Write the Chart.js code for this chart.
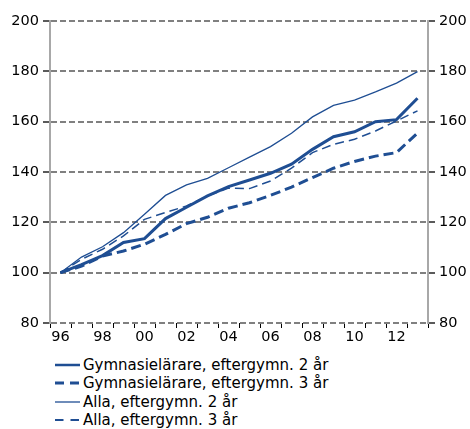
<!DOCTYPE html>
<html>
<head>
<meta charset="utf-8">
<script src="https://cdn.jsdelivr.net/npm/chart.js@4"></script>
<style>
  html, body { margin: 0; padding: 0; background: #fff; }
  #wrap { position: relative; width: 470px; height: 429px; }
  #c { position: absolute; left: 0; top: 0; }
  #legend { position: absolute; left: 55px; top: 355.8px; font-family: "DejaVu Sans", Verdana, sans-serif; font-size: 15px; color: #000; }
  .item { height: 18.4px; line-height: 18.4px; display: flex; align-items: center; white-space: nowrap; }
  .item svg { width: 25px; height: 10px; margin-right: 3px; flex: none; }
</style>
</head>
<body>
<div id="wrap">
  <canvas id="c" width="470" height="345"></canvas>
  <div id="legend"></div>
</div>
<script>
const years = ['96','97','98','99','00','01','02','03','04','05','06','07','08','09','10','11','12','13'];
const yTicks = [80, 100, 120, 140, 160, 180, 200];
const seriesNames = [
  'Gymnasielärare, eftergymn. 2 år',
  'Gymnasielärare, eftergymn. 3 år',
  'Alla, eftergymn. 2 år',
  'Alla, eftergymn. 3 år'
];
const gymn2 = [100, 103.2, 106.8, 112.0, 113.5, 121.5, 126.0, 130.5, 134.2, 136.8, 139.5, 143.1, 149.0, 154.0, 156.0, 160.0, 160.8, 169.3];
const gymn3 = [100, 102.6, 106.6, 108.6, 111.3, 115.2, 119.5, 122.0, 125.6, 127.8, 130.7, 134.0, 137.8, 141.5, 144.2, 146.3, 147.7, 155.5];
const alla2 = [100, 106.2, 110.3, 115.9, 123.2, 130.7, 134.9, 137.5, 141.7, 145.9, 150.1, 155.4, 161.9, 166.5, 168.6, 171.8, 175.3, 179.9];
const alla3 = [100, 105.3, 109.3, 114.6, 121.2, 123.9, 126.5, 130.5, 133.6, 133.4, 136.4, 141.5, 147.7, 151.0, 153.0, 156.3, 160.3, 164.3];

const BLUE = '#1f4e93';
const styles = [
  { borderWidth: 3, borderDash: [], legendWidth: 2.5, legendDash: 'none' },
  { borderWidth: 3, borderDash: [10, 5], legendWidth: 3, legendDash: '9,6' },
  { borderWidth: 1.3, borderDash: [], legendWidth: 1.3, legendDash: 'none' },
  { borderWidth: 1.5, borderDash: [9, 5], legendWidth: 1.8, legendDash: '8.5,7' }
];
const values = [gymn2, gymn3, alla2, alla3];

const datasets = values.map((v, i) => ({
  label: seriesNames[i],
  data: v,
  borderColor: BLUE,
  backgroundColor: BLUE,
  borderWidth: styles[i].borderWidth,
  borderDash: styles[i].borderDash,
  pointRadius: 0,
  tension: 0,
  fill: false
}));

const FONT = { family: '"DejaVu Sans", Verdana, sans-serif', size: 14.5 };
const CANVAS_H = 345;

function yAxis(position, width) {
  const left = position === 'left';
  return {
    position: position,
    min: 80, max: 200,
    afterBuildTicks: (s) => { s.ticks = yTicks.map(v => ({ value: v })); },
    afterFit: (s) => { s.width = width; },
    ticks: { font: FONT, color: '#000', padding: 4 },
    grid: {
      drawOnChartArea: left,
      color: '#808080',
      lineWidth: 2,
      tickColor: '#000',
      tickLength: 7,
      tickWidth: 1.3,
      tickBorderDash: []
    },
    border: { display: true, color: '#a8a8a8', width: 2, dash: [6, 3] }
  };
}

new Chart(document.getElementById('c'), {
  type: 'line',
  data: { labels: years, datasets: datasets },
  options: {
    responsive: false,
    animation: false,
    layout: { padding: { top: 21, left: 0, right: 0, bottom: 0 } },
    plugins: { legend: { display: false }, tooltip: { enabled: false } },
    scales: {
      x: {
        type: 'category',
        offset: true,
        afterFit: (s) => { s.height = CANVAS_H - 323; },
        ticks: {
          font: FONT, color: '#000', autoSkip: false, maxRotation: 0, padding: 1,
          callback: function(val, idx) { return idx % 2 === 0 ? this.getLabelForValue(val) : ''; }
        },
        grid: {
          offset: true,
          drawOnChartArea: false,
          color: '#000',
          tickColor: '#000',
          tickLength: 5,
          tickWidth: 1
        },
        border: { display: false }
      },
      y: yAxis('left', 50),
      y2: yAxis('right', 42)
    }
  }
});

// HTML legend
const legend = document.getElementById('legend');
seriesNames.forEach((name, i) => {
  const d = document.createElement('div');
  d.className = 'item';
  d.innerHTML = '<svg viewBox="0 0 25 10"><line x1="0" y1="5" x2="25" y2="5" stroke="' + BLUE +
    '" stroke-width="' + styles[i].legendWidth + '" stroke-dasharray="' + styles[i].legendDash + '"/></svg>' +
    '<span></span>';
  d.querySelector('span').textContent = name;
  legend.appendChild(d);
});
</script>
</body>
</html>
